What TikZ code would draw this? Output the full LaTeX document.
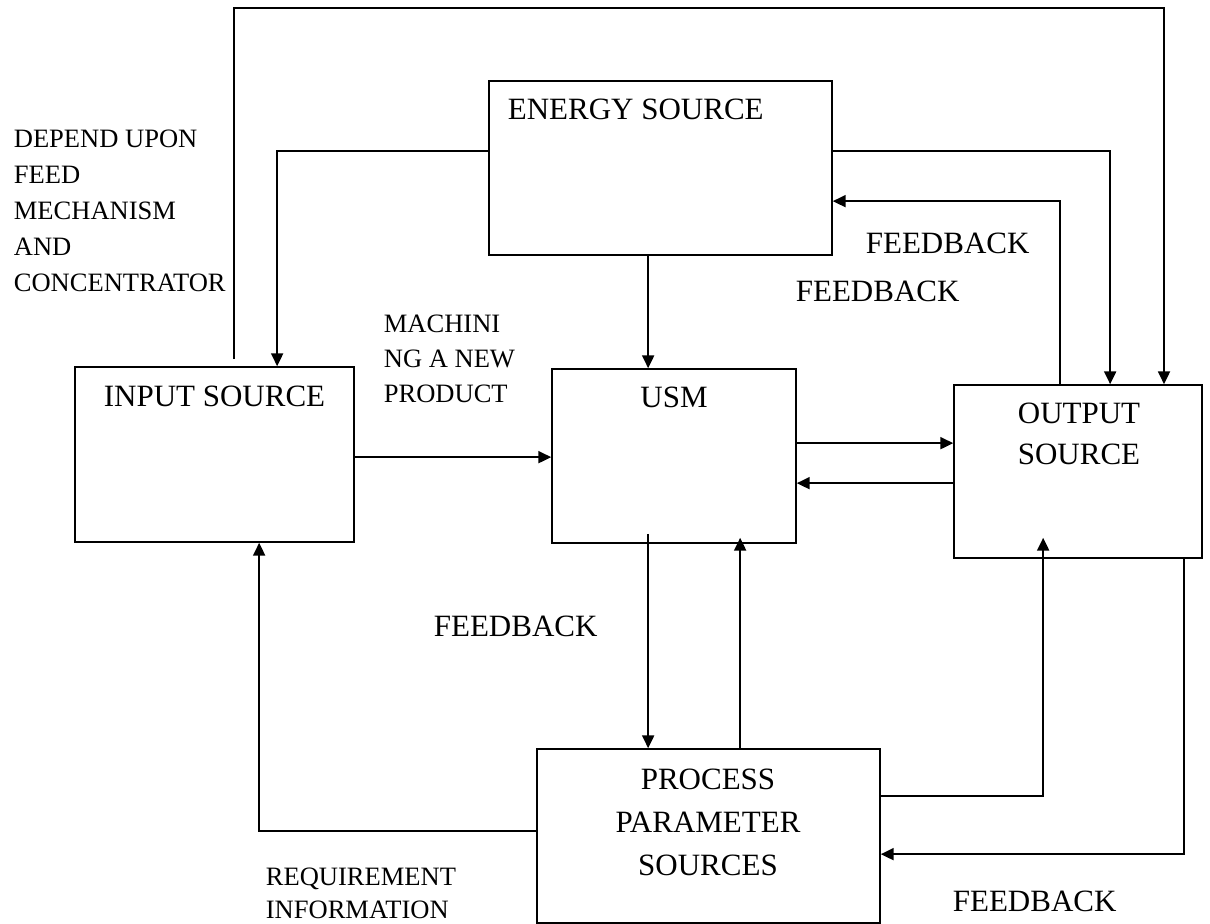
\documentclass[tikz,border=0pt]{standalone}
\usepackage{fontspec}
\setmainfont{Liberation Serif}
\usetikzlibrary{arrows.meta,calc}

\begin{document}
\begin{tikzpicture}[
    x=0.75pt, y=-0.75pt,
    line width=1.3pt,
    blockbox/.style={draw, rectangle, inner sep=0pt},
    conn/.style={draw, -{Triangle[length=9.5pt,width=9pt]}},
    line/.style={draw},
    title/.style={inner sep=0pt, font=\fontsize{23.25}{31.5}\selectfont, align=center},
    note/.style={inner sep=0pt, font=\fontsize{19.9}{27}\selectfont, align=left, anchor=north west},
    fb/.style={inner sep=0pt, font=\fontsize{23.25}{31.5}\selectfont, anchor=north west}
  ]
  \useasboundingbox (0,0) rectangle (1210,924);

  % blocks
  \node[blockbox, minimum width=257.25pt, minimum height=130.5pt]  (energy)  at (660.5,168) {};
  \node[blockbox, minimum width=209.25pt, minimum height=131.25pt] (input)   at (214.5,454.5) {};
  \node[blockbox, minimum width=183pt,    minimum height=130.5pt]  (usm)     at (674,456) {};
  \node[blockbox, minimum width=186pt,    minimum height=129.75pt] (output)  at (1078,471.5) {};
  \node[blockbox, minimum width=257.25pt, minimum height=130.5pt]  (process) at (708.5,836) {};

  % block titles
  \node[title, anchor=north west] (tEnergy) at (507,98) {ENERGY SOURCE};
  \node[title, anchor=north] (tInput)   at (214.5,385) {INPUT SOURCE};
  \node[title, anchor=north] (tUsm)     at (674,386) {USM};
  \node[title, anchor=north, font=\fontsize{23.25}{30.75}\selectfont] (tOutput) at (1079,402) {OUTPUT\\SOURCE};
  \node[title, anchor=north, font=\fontsize{23.25}{32.25}\selectfont] (tProcess) at (708,768) {PROCESS\\PARAMETER\\SOURCES};

  % side notes
  \node[note] (nFeed) at (13,129) {DEPEND UPON\\FEED\\MECHANISM\\AND\\CONCENTRATOR};
  \node[note, font=\fontsize{19.9}{26.25}\selectfont] (nMach) at (383,314) {MACHINI\\NG A NEW\\PRODUCT};
  \node[note, font=\fontsize{19.9}{24.75}\selectfont] (nReq) at (265,867) {REQUIREMENT\\INFORMATION};

  % feedback labels
  \node[fb] (fb1) at (865,232) {FEEDBACK};
  \node[fb] (fb2) at (795,280) {FEEDBACK};
  \node[fb] (fb3) at (433,615) {FEEDBACK};
  \node[fb] (fb4) at (952,890) {FEEDBACK};

  % outer loop from the input source over the top to the output source
  \coordinate (topR) at (1164,8);
  \draw[conn] ($(input.north west)+(160,-7)$) |- (topR) -- (topR |- output.north);

  % energy source feeds
  \draw[conn] ($(energy.north west)+(0,71)$) -| ($(input.north west)+(203,0)$);
  \draw[conn] ($(energy.north east)+(0,71)$) -| ($(output.north west)+(157,0)$);
  \draw[conn] ($(output.north west)+(107,0)$) |- ($(energy.north east)+(0,121)$);
  \draw[conn] ($(energy.south west)+(160,0)$) coordinate (eD) -- (eD |- usm.north);

  % main line input -> USM <-> output
  \draw[conn] ($(input.north east)+(0,91)$) coordinate (iU) -- (iU -| usm.west);
  \draw[conn] ($(usm.north east)+(0,75)$) coordinate (uO) -- (uO -| output.west);
  \draw[conn] ($(output.north west)+(0,99)$) coordinate (oU) -- (oU -| usm.east);

  % USM <-> process parameter sources
  \draw[conn] ($(usm.south west)+(97,-10)$) coordinate (uP) -- (uP |- process.north);
  \draw[conn] ($(process.north west)+(204,0)$) coordinate (pU) -- ($(pU |- usm.south)+(0,-6)$);

  % process parameter sources -> input / output
  \draw[conn] ($(process.north west)+(0,83)$) -| (input.south -| {$(input.south west)+(185,0)$});
  \draw[conn] ($(process.north east)+(0,48)$) -| ($(output.south west)+(90,-21)$);

  % output feedback into process parameter sources
  \draw[conn] ($(output.south west)+(231,0)$) |- ($(process.north east)+(0,106)$);
\end{tikzpicture}
\end{document}
